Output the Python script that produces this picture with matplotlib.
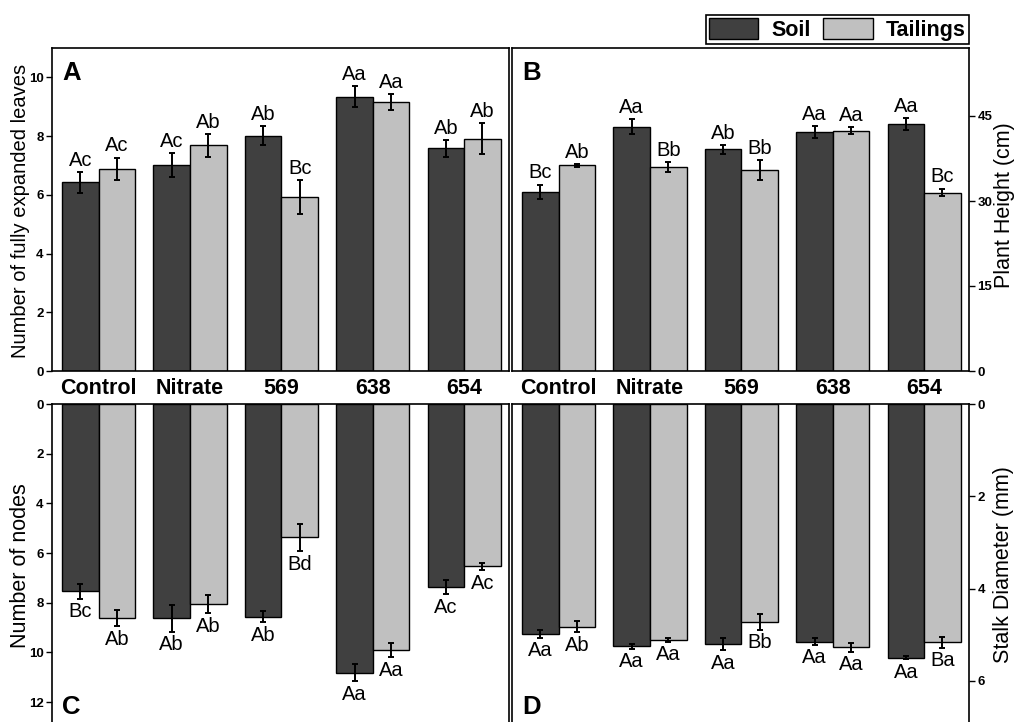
import matplotlib
matplotlib.use('Agg')
import matplotlib.pyplot as plt
import numpy as np
from matplotlib.patches import Patch

plt.rcParams['font.family'] = ['Liberation Sans', 'DejaVu Sans']

categories = ['Control', 'Nitrate', '569', '638', '654']

leaves_soil = [6.42, 7.00, 8.01, 9.34, 7.58]
leaves_soil_err = [0.36, 0.41, 0.32, 0.35, 0.29]
leaves_tail = [6.89, 7.68, 5.92, 9.16, 7.91]
leaves_tail_err = [0.38, 0.38, 0.57, 0.27, 0.53]
leaves_soil_lab = ['Ac', 'Ac', 'Ab', 'Aa', 'Ab']
leaves_tail_lab = ['Ac', 'Ab', 'Bc', 'Aa', 'Ab']

height_soil = [31.6, 43.1, 39.1, 42.2, 43.6]
height_soil_err = [1.3, 1.3, 0.8, 1.1, 1.1]
height_tail = [36.3, 36.0, 35.5, 42.4, 31.5]
height_tail_err = [0.3, 0.9, 1.8, 0.6, 0.7]
height_soil_lab = ['Bc', 'Aa', 'Ab', 'Aa', 'Aa']
height_tail_lab = ['Ab', 'Bb', 'Bb', 'Aa', 'Bc']

nodes_soil = [7.53, 8.62, 8.56, 10.81, 7.38]
nodes_soil_err = [0.30, 0.55, 0.23, 0.35, 0.28]
nodes_tail = [8.62, 8.05, 5.37, 9.90, 6.54]
nodes_tail_err = [0.32, 0.37, 0.55, 0.30, 0.15]
nodes_soil_lab = ['Bc', 'Ab', 'Ab', 'Aa', 'Ac']
nodes_tail_lab = ['Ab', 'Ab', 'Bd', 'Aa', 'Ac']

stalk_soil = [4.98, 5.25, 5.21, 5.15, 5.50]
stalk_soil_err = [0.09, 0.05, 0.13, 0.07, 0.03]
stalk_tail = [4.83, 5.11, 4.72, 5.27, 5.16]
stalk_tail_err = [0.12, 0.04, 0.17, 0.10, 0.12]
stalk_soil_lab = ['Aa', 'Aa', 'Aa', 'Aa', 'Aa']
stalk_tail_lab = ['Ab', 'Aa', 'Bb', 'Aa', 'Ba']

SOIL = '#404040'
TAIL = '#c0c0c0'
W, H = 1014, 722

fig = plt.figure(figsize=(W / 100, H / 100), dpi=100)


def px_axes(x0, y0, x1, y1):
    return fig.add_axes([x0 / W, 1 - y1 / H, (x1 - x0) / W, (y1 - y0) / H])


axA = px_axes(52, 48, 509, 371)
axB = px_axes(512, 48, 969, 371)
axC = px_axes(52, 404, 509, 727)
axD = px_axes(512, 404, 969, 727)

x = np.arange(len(categories))
bw = 0.4


def draw(ax, s, se, t, te, slab, tlab, top):
    ax.bar(x - bw / 2, s, bw, color=SOIL, edgecolor='black', linewidth=1.0, zorder=2)
    ax.bar(x + bw / 2, t, bw, color=TAIL, edgecolor='black', linewidth=1.0, zorder=2)
    ax.errorbar(x - bw / 2, s, yerr=se, fmt='none', ecolor='black', elinewidth=1.4,
                capsize=2.5, capthick=1.4, zorder=3)
    ax.errorbar(x + bw / 2, t, yerr=te, fmt='none', ecolor='black', elinewidth=1.4,
                capsize=2.5, capthick=1.4, zorder=3)
    for xs, vals, errs, labs in ((x - bw / 2, s, se, slab), (x + bw / 2, t, te, tlab)):
        for xi, v, e, l in zip(xs, vals, errs, labs):
            if top:
                ax.annotate(l, (xi, v + e), xytext=(0, 1.5), textcoords='offset points',
                            ha='center', va='bottom', fontsize=14.5)
            else:
                ax.annotate(l, (xi, v + e), xytext=(0, -2.5), textcoords='offset points',
                            ha='center', va='top', fontsize=14.5)
    ax.set_xlim(-0.51, 4.49)
    for sp in ax.spines.values():
        sp.set_linewidth(1.2)
    ax.tick_params(axis='y', direction='out', length=4, width=1.0, labelsize=9.5, pad=2)
    for lbl in ax.get_yticklabels():
        lbl.set_fontweight('bold')


draw(axA, leaves_soil, leaves_soil_err, leaves_tail, leaves_tail_err,
     leaves_soil_lab, leaves_tail_lab, True)
draw(axB, height_soil, height_soil_err, height_tail, height_tail_err,
     height_soil_lab, height_tail_lab, True)
draw(axC, nodes_soil, nodes_soil_err, nodes_tail, nodes_tail_err,
     nodes_soil_lab, nodes_tail_lab, False)
draw(axD, stalk_soil, stalk_soil_err, stalk_tail, stalk_tail_err,
     stalk_soil_lab, stalk_tail_lab, False)

axA.set_ylim(0, 11)
axA.set_yticks([0, 2, 4, 6, 8, 10])
axB.set_ylim(0, 57)
axB.set_yticks([0, 15, 30, 45])
axC.set_ylim(13, 0)
axC.set_yticks([0, 2, 4, 6, 8, 10, 12])
axD.set_ylim(7, 0)
axD.set_yticks([0, 2, 4, 6])

for ax in (axB, axD):
    ax.yaxis.tick_right()
    ax.yaxis.set_label_position('right')

for ax in (axA, axB, axC, axD):
    for lbl in ax.get_yticklabels():
        lbl.set_fontweight('bold')
        lbl.set_fontsize(9.5)

for ax in (axA, axB):
    ax.set_xticks(x)
    ax.set_xticklabels(categories, fontsize=15.5, fontweight='bold')
    ax.tick_params(axis='x', length=0, pad=5)
for ax in (axC, axD):
    ax.set_xticks([])

axA.set_ylabel('Number of fully expanded leaves', fontsize=14.5, va='center')
axA.yaxis.set_label_coords((20.5 - 52) / 457, 0.497)
axC.set_ylabel('Number of nodes', fontsize=15.5, va='center')
axC.yaxis.set_label_coords((20.5 - 52) / 457, 0.500)
axB.set_ylabel('Plant Height (cm)', fontsize=15.5, va='center')
axB.yaxis.set_label_coords((1004.5 - 512) / 457, 0.514)
axD.set_ylabel('Stalk Diameter (mm)', fontsize=15.5, va='center')
axD.yaxis.set_label_coords((1003 - 512) / 457, 0.5025)

for ax, letter, yb in ((axA, 'A', 0.901), (axB, 'B', 0.901), (axC, 'C', 0.040), (axD, 'D', 0.040)):
    ax.text(0.022, yb, letter, transform=ax.transAxes, fontsize=18.5,
            fontweight='bold', ha='left', va='baseline')

handles = [Patch(facecolor=SOIL, edgecolor='black', linewidth=1.0, label='Soil'),
           Patch(facecolor=TAIL, edgecolor='black', linewidth=1.0, label='Tailings')]
leg = fig.legend(handles=handles, ncol=2, loc='lower right',
                 bbox_to_anchor=(969 / W, 1 - 44 / H), borderaxespad=0,
                 prop={'weight': 'bold', 'size': 15.5}, frameon=True, fancybox=False,
                 edgecolor='black', framealpha=1, borderpad=0.15, handlelength=2.3,
                 handleheight=1.1, handletextpad=0.6, columnspacing=0.6)
leg.get_frame().set_linewidth(1.2)

fig.savefig('out.png', dpi=100)
